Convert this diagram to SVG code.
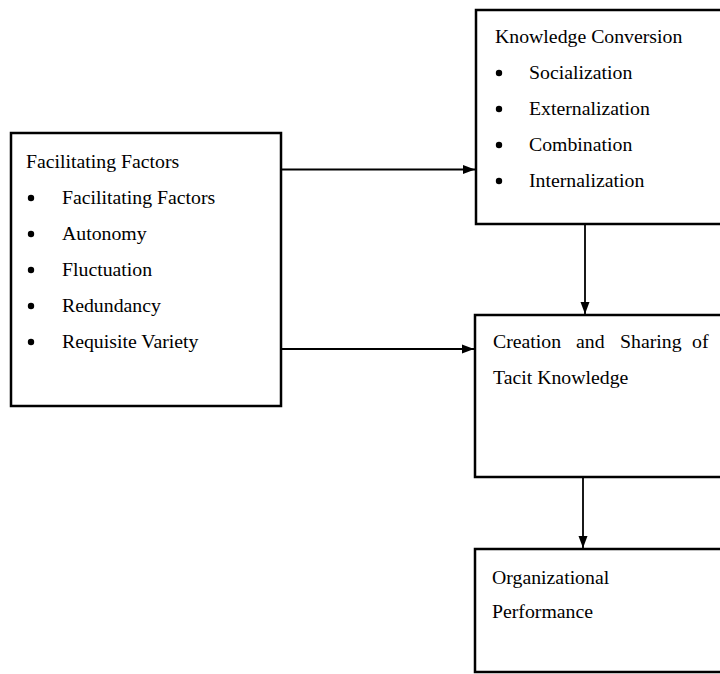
<svg xmlns="http://www.w3.org/2000/svg" width="720" height="674" viewBox="0 0 720 674">
<style>
.box{fill:#fff;stroke:#000;stroke-width:2.5}
.t{font-family:"Liberation Serif","Times New Roman",serif;font-size:19.8px;fill:#000}
.dot{fill:#000}
.c{stroke:#000;stroke-width:1.8;fill:none}
</style>
<defs>
<marker id="ah" viewBox="0 0 12 10" refX="12" refY="5" markerWidth="12" markerHeight="10" markerUnits="userSpaceOnUse" orient="auto">
<path d="M0,0.5 L12,5 L0,9.5 Z" fill="#000"/>
</marker>
</defs>
<rect width="720" height="674" fill="#fff"/>
<g id="connectors">
<line class="c" x1="281" y1="169.5" x2="475" y2="169.5" marker-end="url(#ah)"/>
<line class="c" x1="281" y1="349" x2="474" y2="349" marker-end="url(#ah)"/>
<line class="c" x1="585" y1="225" x2="585" y2="314" marker-end="url(#ah)"/>
<line class="c" x1="583" y1="477" x2="583" y2="548" marker-end="url(#ah)"/>
</g>
<g id="facilitating">
<rect class="box" x="11" y="133" width="270" height="273"/>
<text class="t" x="26" y="168">Facilitating Factors</text>
<circle class="dot" cx="31" cy="198" r="3.2"/><text class="t" x="62" y="204">Facilitating Factors</text>
<circle class="dot" cx="31" cy="234" r="3.2"/><text class="t" x="62" y="240">Autonomy</text>
<circle class="dot" cx="31" cy="270" r="3.2"/><text class="t" x="62" y="276">Fluctuation</text>
<circle class="dot" cx="31" cy="306" r="3.2"/><text class="t" x="62" y="312">Redundancy</text>
<circle class="dot" cx="31" cy="342" r="3.2"/><text class="t" x="62" y="348">Requisite Variety</text>
</g>
<g id="conversion">
<rect class="box" x="476" y="10" width="260" height="214"/>
<text class="t" x="495" y="43">Knowledge Conversion</text>
<circle class="dot" cx="499" cy="73" r="3.2"/><text class="t" x="529" y="79">Socialization</text>
<circle class="dot" cx="499" cy="109" r="3.2"/><text class="t" x="529" y="115">Externalization</text>
<circle class="dot" cx="499" cy="145" r="3.2"/><text class="t" x="529" y="151">Combination</text>
<circle class="dot" cx="499" cy="181" r="3.2"/><text class="t" x="529" y="187">Internalization</text>
</g>
<g id="creation">
<rect class="box" x="475" y="315" width="260" height="162"/>
<text class="t" y="348"><tspan x="493">Creation</tspan><tspan x="576">and</tspan><tspan x="620">Sharing</tspan><tspan x="692">of</tspan></text>
<text class="t" x="493" y="384">Tacit Knowledge</text>
</g>
<g id="performance">
<rect class="box" x="475" y="549" width="260" height="123"/>
<text class="t" x="492" y="584">Organizational</text>
<text class="t" x="492" y="618">Performance</text>
</g>
</svg>
